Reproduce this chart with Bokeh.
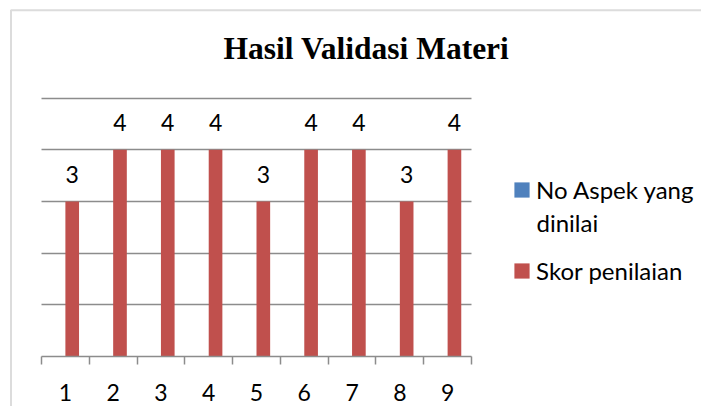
from bokeh.plotting import figure
from bokeh.models import FixedTicker, Label, Legend, LegendItem, Range1d, BoxAnnotation
from bokeh.embed import file_html
from bokeh.resources import INLINE
from bokeh.core.properties import value

# ---- data ----
categories = [1, 2, 3, 4, 5, 6, 7, 8, 9]
no_aspek = [0, 0, 0, 0, 0, 0, 0, 0, 0]
skor = [3, 4, 4, 4, 3, 4, 4, 3, 4]
grid_values = [1, 2, 3, 4, 5]
y_max = 5
title_text = "Hasil Validasi Materi"
series_names = ["No Aspek yang", "Skor penilaian"]
series_name_wrap = "dinilai"

BLUE = "#4F81BD"
RED = "#C0504D"
GRAY = "#8C8C8C"
FONT = "Lato"

# ---- layout (pixels in the picture) ----
W, H = 701, 406
PX_LEFT, PX_RIGHT = 41.0, 471.0      # plot area x extent
PX_BASE, PX_TOP = 356.0, 97.7        # plot area y extent (0 and y_max)
x_lo, x_hi = categories[0] - 0.5, categories[-1] + 0.5
xs = (x_hi - x_lo) / (PX_RIGHT - PX_LEFT)
ys = y_max / (PX_BASE - PX_TOP)
def xd(px):
    return x_lo + (px - PX_LEFT) * xs
def yd(py):
    return (PX_BASE - py) * ys

p = figure(width=W, height=H, output_backend="svg", toolbar_location=None,
           x_range=Range1d(xd(0), xd(W)), y_range=Range1d(yd(H), yd(0)),
           min_border_left=0, min_border_right=0, min_border_top=0, min_border_bottom=0)
p.outline_line_color = None
p.background_fill_color = "white"
p.border_fill_color = "white"

# chart border (left and top edges visible)
p.add_layout(BoxAnnotation(left=xd(10.5), top=yd(9.8), right=xd(W + 20), bottom=yd(H + 20),
                           fill_alpha=0, line_color=GRAY, line_width=2))

bw = 1 / 3.5
off = bw / 2
blue = p.vbar(x=[c - off for c in categories], top=no_aspek, width=bw,
              fill_color=BLUE, line_color=None)
red = p.vbar(x=[c + off for c in categories], top=skor, width=bw,
             fill_color=RED, line_color=None)

p.text(x=[c + off for c in categories], y=skor, text=[str(s) for s in skor],
       text_align="center", text_baseline="middle", y_offset=-27,
       text_font=value(FONT), text_font_size="23px", text_color="black")

# axes & grid
p.yaxis.visible = False
p.xgrid.visible = False
p.ygrid.ticker = FixedTicker(ticks=grid_values)
p.ygrid.cross_bounds = (x_lo, x_hi)
p.ygrid.grid_line_color = GRAY
p.ygrid.grid_line_width = 1.5

xa = p.xaxis[0]
xa.fixed_location = 0
xa.bounds = (x_lo, x_hi)
xa.ticker = FixedTicker(ticks=categories,
                        minor_ticks=[c - 0.5 for c in categories] + [categories[-1] + 0.5])
xa.axis_line_color = GRAY
xa.axis_line_width = 1.5
xa.major_tick_line_color = None
xa.major_tick_out = 0
xa.major_tick_in = 0
xa.minor_tick_line_color = GRAY
xa.minor_tick_line_width = 1.5
xa.minor_tick_out = 8
xa.minor_tick_in = 0
xa.major_label_standoff = 19
xa.major_label_text_font = FONT
xa.major_label_text_font_size = "23px"
xa.major_label_text_color = "black"

title = Label(x=366, y=H - 47.5, x_units="screen", y_units="screen", text=title_text,
              text_align="center", text_baseline="middle",
              text_font="Liberation Serif", text_font_style="bold",
              text_font_size="31.5px", text_color="black")
p.add_layout(title)

legend = Legend(items=[LegendItem(label=series_names[0], renderers=[blue]),
                       LegendItem(label=series_names[1], renderers=[red])],
                location=(512.1, 121.5), padding=0, margin=0, spacing=52,
                glyph_width=19, glyph_height=19, label_standoff=5,
                label_text_font=FONT, label_text_font_size="24px",
                label_text_color="black",
                border_line_color=None, background_fill_alpha=0)
p.add_layout(legend, "center")

# second line of the wrapped legend label
p.add_layout(Label(x=536, y=H - 222, x_units="screen", y_units="screen",
                   text=series_name_wrap, text_align="left", text_baseline="middle",
                   text_font=FONT, text_font_size="24px", text_color="black"))

open("out.html", "w").write(file_html(p, INLINE))
